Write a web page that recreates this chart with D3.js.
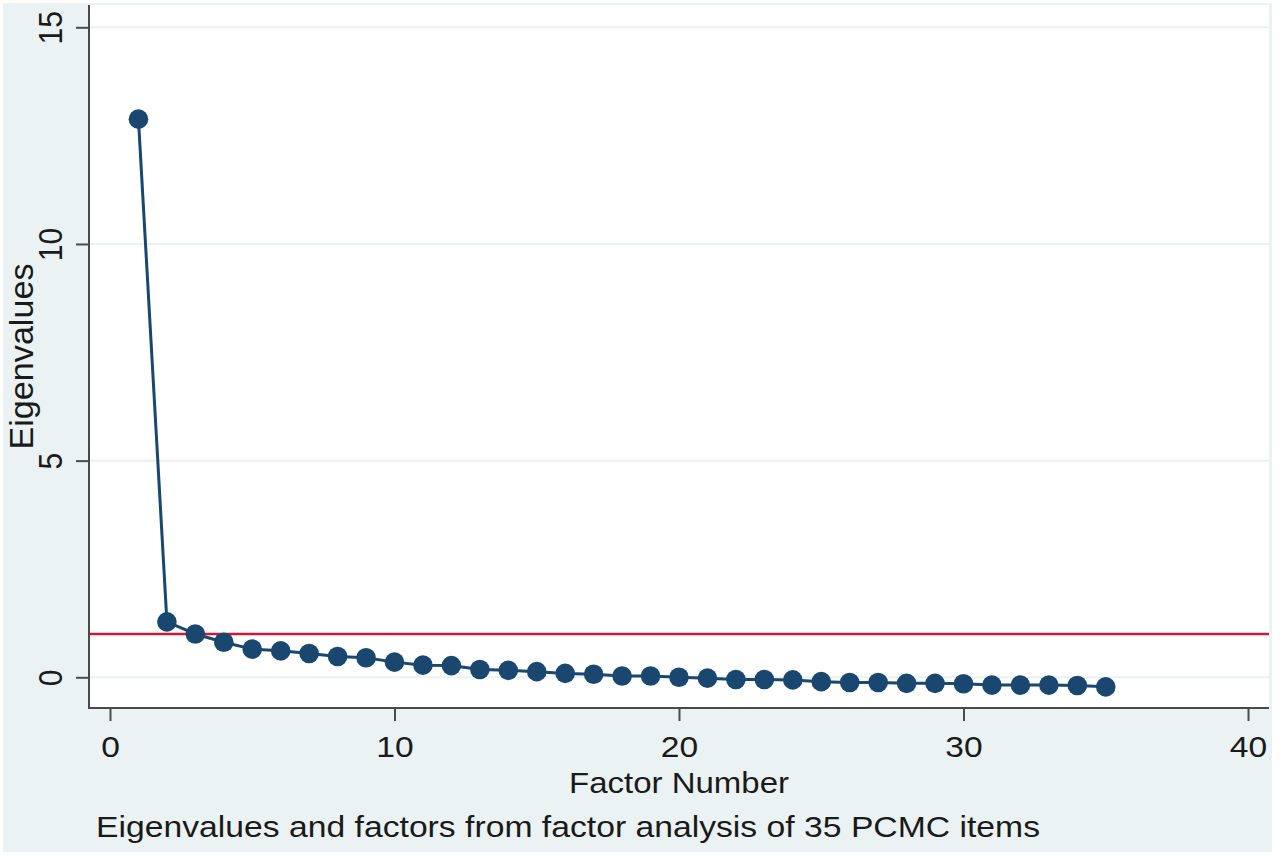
<!DOCTYPE html>
<html>
<head>
<meta charset="utf-8">
<script src="https://cdn.jsdelivr.net/npm/d3@7"></script>
<style>
  html, body { margin: 0; padding: 0; background: #ffffff; }
  svg { display: block; }
  text { font-family: "Liberation Sans", Arial, Helvetica, sans-serif; fill: #1a1a1a; }
</style>
</head>
<body>
<svg id="chart" width="1280" height="858"></svg>
<script>
// ---- data ----
const factorNumbers = d3.range(1, 36);
const eigenvalues = [12.88, 1.28, 1.00, 0.81, 0.65, 0.61, 0.55, 0.48, 0.45, 0.35,
                     0.28, 0.27, 0.18, 0.16, 0.13, 0.09, 0.07, 0.03, 0.03, 0.00,
                     -0.02, -0.05, -0.05, -0.06, -0.10, -0.12, -0.12, -0.14, -0.14, -0.15,
                     -0.18, -0.18, -0.18, -0.19, -0.22];
const xTicks = [0, 10, 20, 30, 40];
const yTicks = [0, 5, 10, 15];
const referenceLine = 1;
const xTitle = "Factor Number";
const yTitle = "Eigenvalues";
const caption = "Eigenvalues and factors from factor analysis of 35 PCMC items";

// ---- layout ----
const svg = d3.select("#chart");
const plot = { left: 89, right: 1269, top: 5, bottom: 708 };
const x = d3.scaleLinear().domain([0, 40]).range([110, 1248]);
const y = d3.scaleLinear().domain([0, 15]).range([677.3, 27.3]);
const stretch = 1.12;
const navy = "#1a476f";
const axisCol = "#4a4a4a";

// outer background
svg.append("rect").attr("x", 3).attr("y", 3).attr("width", 1269).attr("height", 849)
  .attr("fill", "#eaf2f3");
// plot region
svg.append("rect").attr("x", plot.left).attr("y", plot.top)
  .attr("width", plot.right - plot.left).attr("height", plot.bottom - plot.top)
  .attr("fill", "#ffffff");

// gridlines
svg.append("g").selectAll("line").data(yTicks).join("line")
  .attr("x1", plot.left).attr("x2", plot.right)
  .attr("y1", d => y(d)).attr("y2", d => y(d))
  .attr("stroke", "#eaf2f3").attr("stroke-width", 2);

// y axis
const yAxis = d3.axisLeft(y).tickValues(yTicks).tickSize(13).tickPadding(0).tickFormat(d3.format("d"));
const yg = svg.append("g").attr("transform", `translate(${plot.left},0)`).call(yAxis);
yg.select(".domain").remove();
yg.selectAll(".tick line").attr("stroke", axisCol).attr("stroke-width", 2);
yg.selectAll(".tick text").remove();
yg.selectAll(".tick").append("text")
  .attr("transform", `translate(-27,0) scale(${stretch},1) rotate(-90)`)
  .attr("text-anchor", "middle").attr("font-size", 30)
  .style("fill", "#1a1a1a")
  .text(d => d3.format("d")(d));
svg.append("line").attr("x1", plot.left).attr("x2", plot.left)
  .attr("y1", plot.top).attr("y2", plot.bottom + 1)
  .attr("stroke", axisCol).attr("stroke-width", 2);

// x axis
const xAxis = d3.axisBottom(x).tickValues(xTicks).tickSize(13).tickPadding(0).tickFormat(d3.format("d"));
const xg = svg.append("g").attr("transform", `translate(0,${plot.bottom})`).call(xAxis);
xg.select(".domain").remove();
xg.selectAll(".tick line").attr("stroke", axisCol).attr("stroke-width", 2);
xg.selectAll(".tick text").remove();
xg.selectAll(".tick").append("text")
  .attr("transform", `translate(0,49) scale(${stretch},1)`)
  .attr("text-anchor", "middle").attr("font-size", 30)
  .style("fill", "#1a1a1a")
  .text(d => d3.format("d")(d));
svg.append("line").attr("x1", plot.left - 1).attr("x2", plot.right)
  .attr("y1", plot.bottom).attr("y2", plot.bottom)
  .attr("stroke", axisCol).attr("stroke-width", 2);

// reference line
svg.append("line").attr("x1", plot.left + 1).attr("x2", plot.right)
  .attr("y1", y(referenceLine)).attr("y2", y(referenceLine))
  .attr("stroke", "#c8193f").attr("stroke-width", 2.5);

// line + markers
const pts = factorNumbers.map((f, i) => [f, eigenvalues[i]]);
svg.append("path").datum(pts)
  .attr("fill", "none").attr("stroke", navy).attr("stroke-width", 3)
  .attr("d", d3.line().x(d => x(d[0])).y(d => y(d[1])));
svg.append("g").selectAll("circle").data(pts).join("circle")
  .attr("cx", d => x(d[0])).attr("cy", d => y(d[1])).attr("r", 9.8)
  .attr("fill", navy);

// titles
svg.append("text")
  .attr("transform", `translate(${(plot.left + plot.right) / 2},793)`)
  .attr("text-anchor", "middle").attr("font-size", 30)
  .attr("textLength", 220).attr("lengthAdjust", "spacingAndGlyphs")
  .text(xTitle);
svg.append("text")
  .attr("transform", `translate(33,${(plot.top + plot.bottom) / 2}) scale(${stretch},1) rotate(-90)`)
  .attr("text-anchor", "middle").attr("font-size", 30)
  .attr("textLength", 186).attr("lengthAdjust", "spacingAndGlyphs")
  .text(yTitle);
svg.append("text")
  .attr("x", 96).attr("y", 837).attr("font-size", 30)
  .attr("textLength", 944).attr("lengthAdjust", "spacingAndGlyphs")
  .text(caption);
</script>
</body>
</html>
